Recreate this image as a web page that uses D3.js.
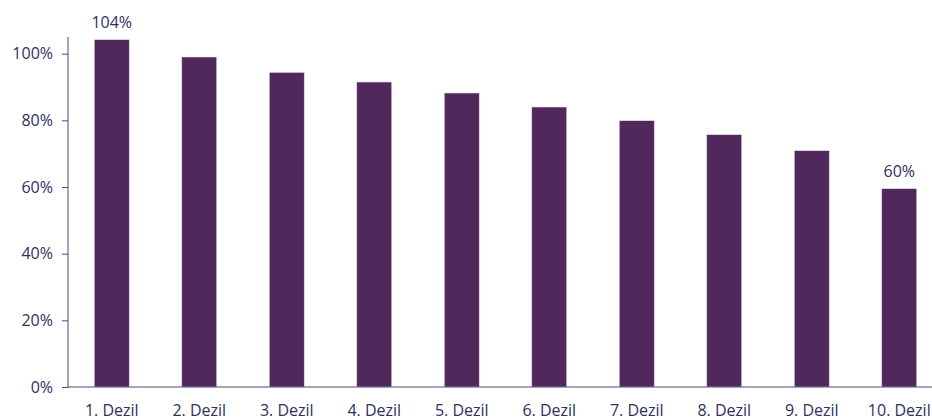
<!DOCTYPE html>
<html>
<head>
<meta charset="utf-8">
<script src="https://cdn.jsdelivr.net/npm/d3@7"></script>
<style>
  body { margin: 0; background: #fff; }
  svg { display: block; }
  text { font-family: "Open Sans", sans-serif; }
  .axis text { fill: #2e3060; font-size: 16px; }
  .axis path, .axis line { stroke: #4a4c78; }
</style>
</head>
<body>
<div id="chart"></div>
<script>
var categories = ["1. Dezil", "2. Dezil", "3. Dezil", "4. Dezil", "5. Dezil",
                  "6. Dezil", "7. Dezil", "8. Dezil", "9. Dezil", "10. Dezil"];
var values = [104.2, 99.0, 94.4, 91.5, 88.2, 84.0, 79.9, 75.7, 70.9, 59.5];
var labelled = ["1. Dezil", "10. Dezil"];
var yTicks = [0, 20, 40, 60, 80, 100];

var width = 932,
    height = 419,
    margin = { top: 37, right: 0, bottom: 32, left: 68 },
    innerHeight = height - margin.top - margin.bottom;

var svg = d3.select("#chart").append("svg")
    .attr("width", width)
    .attr("height", height);

var g = svg.append("g")
    .attr("transform", "translate(" + margin.left + "," + margin.top + ")");

// band of 87.5px per decile, runs a little past the right edge like the original
var xScale = d3.scaleBand()
    .domain(categories)
    .range([0, 875])
    .paddingInner(0.6)
    .paddingOuter(0.3);

var yScale = d3.scaleLinear()
    .domain([0, 105])
    .range([innerHeight, 0]);

g.append("g")
    .attr("class", "y axis")
    .call(d3.axisLeft(yScale).tickValues(yTicks).tickSize(6).tickPadding(9)
        .tickFormat(function(d) { return d + "%"; }))
    .call(function(a) { a.select(".domain").attr("d", "M0,0V" + innerHeight); });

g.selectAll("rect.bar")
    .data(values)
    .enter().append("rect")
    .attr("class", "bar")
    .attr("x", function(d, i) { return xScale(categories[i]); })
    .attr("width", xScale.bandwidth())
    .attr("y", function(d) { return yScale(d); })
    .attr("height", function(d) { return innerHeight - yScale(d); })
    .attr("fill", "#50285c")
    .attr("stroke", "#e6dcea")
    .attr("stroke-width", 0.6);

g.append("g")
    .attr("class", "x axis")
    .attr("transform", "translate(0," + innerHeight + ")")
    .call(d3.axisBottom(xScale).tickSize(0).tickPadding(18))
    .call(function(a) { a.select(".domain").attr("d", "M0,0H" + (width - margin.left)); });

// value labels on first and last bar
g.selectAll("text.val")
    .data(values.filter(function(d, i) { return labelled.indexOf(categories[i]) >= 0; }))
    .enter().append("text")
    .attr("class", "val")
    .attr("x", function(d) { return xScale(categories[values.indexOf(d)]) + xScale.bandwidth() / 2; })
    .attr("y", function(d) { return yScale(d) - 12; })
    .attr("text-anchor", "middle")
    .style("font-size", "16px")
    .style("fill", "#2e3060")
    .text(function(d) { return Math.round(d) + "%"; });
</script>
</body>
</html>
